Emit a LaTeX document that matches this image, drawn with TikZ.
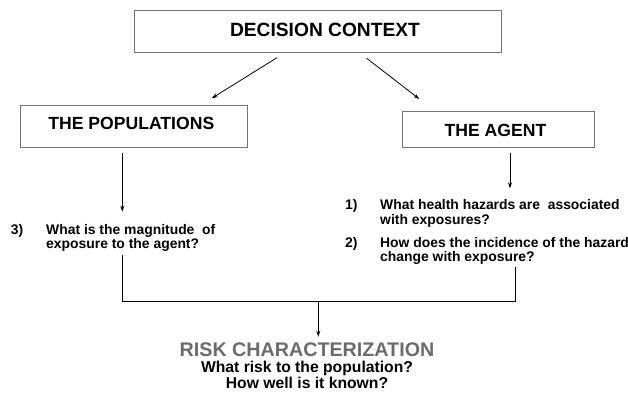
\documentclass[tikz,border=0pt]{standalone}
\usepackage{fontspec}
\setmainfont{Liberation Sans}
\usetikzlibrary{arrows.meta}
\begin{document}
\begin{tikzpicture}[x=1pt,y=-1pt,
  box/.style={draw=black!55, line width=0.8pt, inner sep=0pt, fill=white},
  head/.style={font=\bfseries\fontsize{17.6}{20}\selectfont, anchor=base, inner sep=0pt},
  qtext/.style={font=\bfseries\fontsize{13.9}{15}\selectfont, anchor=base west, inner sep=0pt},
  arr/.style={-{Stealth[length=6pt,width=4pt]}, line width=0.8pt},
  link/.style={line width=1pt},
]
\useasboundingbox (0,0) rectangle (628,395);

% top box
\node[box, minimum width=367pt, minimum height=42pt] (dc) at (317.5,31) {};
\node[head, font=\bfseries\fontsize{19.2}{22}\selectfont] (dct) at (325,36.7) {DECISION CONTEXT};

% populations branch
\node[box, minimum width=226.6pt, minimum height=42pt] (pop) at (134,126.3) {};
\node[head] (popt) at (131.3,130) {THE POPULATIONS};

% agent branch
\node[box, minimum width=191.7pt, minimum height=35.6pt] (ag) at (498.2,129.5) {};
\node[head] (agt) at (495.5,136.7) {THE AGENT};

% arrows from the decision context
\coordinate (d1) at (277,57.7);
\coordinate (d2) at (366.7,58.3);
\coordinate (p1) at (211.7,98.3);
\coordinate (g1) at (419.3,99);
\draw[arr] (d1) -- (p1);
\draw[arr] (d2) -- (g1);

% questions under the populations
\coordinate (ps) at (122.3,153.3);
\coordinate (pe) at (122.3,211.7);
\draw[arr] (ps) -- (pe);
\node[qtext] (n3) at (10.7,234) {3)};
\node[qtext] (q3a) at (46,234) {What is the magnitude\ \ of};
\node[qtext] (q3b) at (46,248.3) {exposure to the agent?};

% questions under the agent
\coordinate (as) at (510,153.3);
\coordinate (ae) at (510,188.3);
\draw[arr] (as) -- (ae);
\node[qtext] (n1) at (345,210) {1)};
\node[qtext] (q1a) at (380,210) {What health hazards are\ \ associated};
\node[qtext] (q1b) at (380,224.3) {with exposures?};
\node[qtext] (n2) at (345,247.3) {2)};
\node[qtext] (q2a) at (380,247.3) {How does the incidence of the hazard};
\node[qtext] (q2b) at (380,261) {change with exposure?};

% joining lines
\coordinate (ls) at (122.3,255);
\coordinate (lc) at (122.3,301.7);
\coordinate (rs) at (515.7,266.7);
\coordinate (rc) at (515.7,301.7);
\coordinate (mc) at (318.3,301.7);
\coordinate (me) at (318.3,336.7);
\draw[link] (ls) -- (lc);
\draw[link] (rs) -- (rc);
\draw[line width=1.3pt] (lc) -- (rc);
\draw[arr] (mc) -- (me);

% result
\node[anchor=base, inner sep=0pt, text=black!58, font=\bfseries\fontsize{19.7}{22}\selectfont] (rk) at (307,356.7) {RISK CHARACTERIZATION};
\node[anchor=base, inner sep=0pt, font=\bfseries\fontsize{15.7}{17}\selectfont] (rk1) at (307,372.7) {What risk to the population?};
\node[anchor=base, inner sep=0pt, font=\bfseries\fontsize{15.7}{17}\selectfont] (rk2) at (307,388.3) {How well is it known?};
\end{tikzpicture}
\end{document}
